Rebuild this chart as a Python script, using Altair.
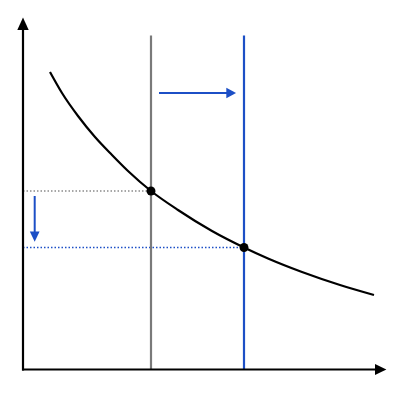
import altair as alt
import pandas as pd

# Curve (demand-like): quantity vs price units (origin at axes corner)
curve_q = [27, 39, 55, 72, 89, 105, 128, 155, 189, 221, 245, 279, 317, 351]
curve_p = [297.5, 276.5, 253.5, 232.5, 214.5, 198.5, 178.5, 159.5, 138.5, 122, 111, 97.5, 84.5, 74.5]

# Vertical lines (old = gray, new = blue)
vline_q = [128, 221]
vline_top = [334, 334]
vline_color = ["#7a7a7a", "#1c4fc6"]

# Equilibrium points
dot_q = [128, 221]
dot_p = [178.5, 122]

# Dotted price guides
guide_p = [178.5, 122]
guide_q_end = [128, 221]
guide_color = ["#8a8a8a", "#1c4fc6"]

BLUE = "#1c4fc6"

xs = alt.Scale(domain=[-15, 369], nice=False, zero=False)
ys = alt.Scale(domain=[-22.5, 361.5], nice=False, zero=False)


def X(f):
    return alt.X(f, type="quantitative", scale=xs, axis=None)


def Y(f):
    return alt.Y(f, type="quantitative", scale=ys, axis=None)


# dotted guides
guides = pd.DataFrame({"q0": [0, 0], "q1": guide_q_end, "p": guide_p, "c": guide_color})
guide_layer = alt.Chart(guides).mark_rule(strokeDash=[1.5, 2], strokeWidth=1.4).encode(
    x=X("q0"), x2="q1", y=Y("p"), color=alt.Color("c:N", scale=None)
)

# vertical lines
vl = pd.DataFrame({"q": vline_q, "p0": [0, 0], "p1": vline_top, "c": vline_color})
vline_layer = alt.Chart(vl).mark_rule(strokeWidth=2.2).encode(
    x=X("q"), y=Y("p0"), y2="p1", color=alt.Color("c:N", scale=None)
)

# curve
cv = pd.DataFrame({"q": curve_q, "p": curve_p})
curve_layer = alt.Chart(cv).mark_line(color="black", strokeWidth=2.2, interpolate="monotone").encode(
    x=X("q"), y=Y("p")
)

# axes
axes = pd.DataFrame({"q0": [0, -1], "q1": [0, 353], "p0": [-1, 0], "p1": [340, 0]})
axes_layer = alt.Chart(axes).mark_rule(color="black", strokeWidth=2.2).encode(
    x=X("q0"), x2="q1", y=Y("p0"), y2="p1"
)

# axis arrowheads
up_head = alt.Chart(pd.DataFrame({"q": [0], "p": [345.7]})).mark_point(
    shape="M0,-1.1L-1,1.1L1,1.1Z", filled=True, size=130, color="black", opacity=1
).encode(x=X("q"), y=Y("p"))
right_head = alt.Chart(pd.DataFrame({"q": [357.7], "p": [0]})).mark_point(
    shape="M1,0L-1,-0.95L-1,0.95Z", filled=True, size=130, color="black", opacity=1
).encode(x=X("q"), y=Y("p"))

# blue shift arrows
shaft_h = alt.Chart(pd.DataFrame({"q0": [136], "q1": [206], "p": [276.5]})).mark_rule(
    color=BLUE, strokeWidth=2
).encode(x=X("q0"), x2="q1", y=Y("p"))
head_h = alt.Chart(pd.DataFrame({"q": [208.2], "p": [276.5]})).mark_point(
    shape="M1,0L-1,-1.06L-1,1.06Z", filled=True, size=95, color=BLUE, opacity=1
).encode(x=X("q"), y=Y("p"))

shaft_v = alt.Chart(pd.DataFrame({"q": [11.7], "p0": [173.5], "p1": [136]})).mark_rule(
    color=BLUE, strokeWidth=2
).encode(x=X("q"), y=Y("p0"), y2="p1")
head_v = alt.Chart(pd.DataFrame({"q": [11.7], "p": [132.8]})).mark_point(
    shape="M0,1.06L-1,-1.06L1,-1.06Z", filled=True, size=95, color=BLUE, opacity=1
).encode(x=X("q"), y=Y("p"))

# points
dots = alt.Chart(pd.DataFrame({"q": dot_q, "p": dot_p})).mark_point(
    shape="circle", filled=True, size=80, color="black", opacity=1
).encode(x=X("q"), y=Y("p"))

chart = alt.layer(
    guide_layer, vline_layer, curve_layer, axes_layer, up_head, right_head,
    shaft_h, head_h, shaft_v, head_v, dots
).properties(
    width=384, height=384, padding=0, autosize=alt.AutoSizeParams(type="none"), background="white"
).configure_view(stroke=None)

chart.save("out.html", embed_options={"renderer": "svg", "actions": False})
